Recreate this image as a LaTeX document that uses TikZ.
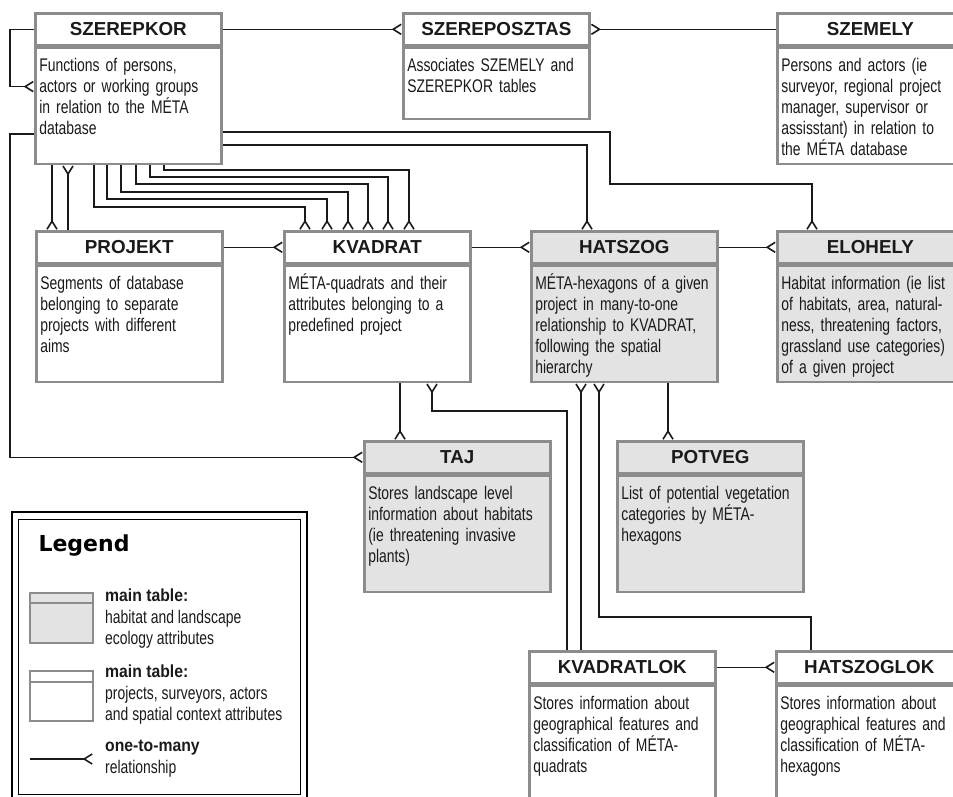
\documentclass[tikz,border=0pt]{standalone}
\usepackage{fontspec}
\setmainfont{Liberation Sans}
\newfontfamily\narrowfont{Liberation Sans}[FakeStretch=0.76]
\newfontfamily\semifont{Liberation Sans}[FakeStretch=0.9]
\newfontfamily\legendfont{DejaVu Sans}
\usepackage{tikz}
\usetikzlibrary{positioning,arrows.meta}
\definecolor{tblgray}{HTML}{8C8C8C}
\definecolor{tblfill}{HTML}{E3E3E3}
\definecolor{inkblack}{HTML}{1A1A1A}

\tikzset{
  hd/.style={draw=tblgray, line width=2.6pt, fill=white, text=inkblack,
    minimum width=186pt, minimum height=32pt, inner sep=0pt, anchor=north west,
    font=\fontsize{18.8}{20}\selectfont\bfseries},
  bd/.style={draw=tblgray, line width=2.6pt, fill=white, text=inkblack,
    inner xsep=4pt, inner ysep=6pt, text width=178pt, align=left,
    text height=18pt, text depth=86pt, font=\narrowfont\fontsize{18.3}{21}\selectfont},
  hab/.style={fill=tblfill},
  rel/.style={draw=inkblack, line width=1.6pt,
    -{Straight Barb[reversed,length=8pt,width=10pt]}},
  lgtext/.style={anchor=north west, inner sep=0pt, align=left, text=inkblack,
    font=\narrowfont\fontsize{18.3}{21.5}\selectfont},
}

\begin{document}
\begin{tikzpicture}[x=1pt,y=-1pt]
\useasboundingbox (0,0) rectangle (953,796);
\clip (0,0) rectangle (953,796);

% tables, top row
\node[hd] (szerepkor) at (34,12) {SZEREPKOR};
\node[bd, below=0pt of szerepkor] (szerepkor-b) {Functions of persons,\\actors or working groups\\in relation to the MÉTA\\database};
\node[hd] (szereposztas) at (402,12) {SZEREPOSZTAS};
\node[bd, text depth=41pt, below=0pt of szereposztas] (szereposztas-b) {Associates SZEMELY and\\SZEREPKOR tables};
\node[hd] (szemely) at (776,12) {SZEMELY};
\node[bd, below=0pt of szemely] (szemely-b) {Persons and actors (ie\\surveyor, regional project\\manager, supervisor or\\assisstant) in relation to\\the MÉTA database};

% tables, second row
\node[hd] (projekt) at (35,230) {PROJEKT};
\node[bd, below=0pt of projekt] (projekt-b) {Segments of database\\belonging to separate\\projects with different\\aims};
\node[hd] (kvadrat) at (283,230) {KVADRAT};
\node[bd, below=0pt of kvadrat] (kvadrat-b) {MÉTA-quadrats and their\\attributes belonging to a\\predefined project};
\node[hd, hab] (hatszog) at (530,230) {HATSZOG};
\node[bd, hab, below=0pt of hatszog] (hatszog-b) {MÉTA-hexagons of a given\\project in many-to-one\\relationship to KVADRAT,\\following the spatial\\hierarchy};
\node[hd, hab] (elohely) at (776,230) {ELOHELY};
\node[bd, hab, below=0pt of elohely] (elohely-b) {Habitat information (ie list\\of habitats, area, natural-\\ness, threatening factors,\\grassland use categories)\\of a given project};

% tables, third row
\node[hd, hab] (taj) at (363,440) {TAJ};
\node[bd, hab, below=0pt of taj] (taj-b) {Stores landscape level\\information about habitats\\(ie threatening invasive\\plants)};
\node[hd, hab] (potveg) at (616,440) {POTVEG};
\node[bd, hab, below=0pt of potveg] (potveg-b) {List of potential vegetation\\categories by MÉTA-\\hexagons};

% tables, bottom row
\node[hd] (kvadratlok) at (528,650) {KVADRATLOK};
\node[bd, below=0pt of kvadratlok] (kvadratlok-b) {Stores information about\\geographical features and\\classification of MÉTA-\\quadrats};
\node[hd] (hatszoglok) at (775,650) {HATSZOGLOK};
\node[bd, below=0pt of hatszoglok] (hatszoglok-b) {Stores information about\\geographical features and\\classification of MÉTA-\\hexagons};

% relations
\draw[rel] (szerepkor.west) -- ++(-24,0) |- ([yshift=-40pt]szerepkor-b.north west);
\draw[rel] (szerepkor.east) -- (szereposztas.west);
\draw[rel] (szemely.west) -- (szereposztas.east);
\draw[rel] (szerepkor-b.south -| 52,0) -- (projekt.north -| 52,0);
\draw[rel] (projekt.north -| 68,0) -- (szerepkor-b.south -| 68,0);
\foreach \a/\b/\c in {94/207/305, 107/199/327, 121/192/348, 136/184/368, 150/177/388, 164/170/409}
  \draw[rel] (szerepkor-b.south -| \a,0) |- (\c,\b) -- (kvadrat.north -| \c,0);
\draw[rel] (szerepkor-b.east |- 0,145) -| (hatszog.north -| 587,0);
\draw[rel] (szerepkor-b.east |- 0,132) -| (610,184) -| (elohely.north -| 812,0);
\draw[rel] (szerepkor-b.west |- 0,134) -- (10,134) |- (taj.west);
\draw[rel] (projekt.east) -- (kvadrat.west);
\draw[rel] (kvadrat.east) -- (hatszog.west);
\draw[rel] (hatszog.east) -- (elohely.west);
\draw[rel] (kvadrat-b.south -| 400,0) -- (taj.north -| 400,0);
\draw[rel] (kvadratlok.north -| 567,0) |- (432,411) -- (kvadrat-b.south -| 432,0);
\draw[rel] (kvadratlok.north -| 581,0) -- (hatszog-b.south -| 581,0);
\draw[rel] (hatszoglok.north -| 811,0) |- (599,617) -- (hatszog-b.south -| 599,0);
\draw[rel] (hatszog-b.south -| 668,0) -- (potveg.north -| 668,0);
\draw[rel] (kvadratlok.east) -- (hatszoglok.west);

% legend
\draw[line width=2.8pt] (12,512) rectangle (307,801);
\draw[line width=1pt] (18,519) rectangle (300,794);
\node[anchor=west, text=black, font=\legendfont\bfseries\fontsize{22}{24}\selectfont] (legend) at (35,546) {Legend};
\draw[draw=tblgray, fill=tblfill, line width=1.5pt] (30,593) rectangle (93,643);
\draw[draw=tblgray, line width=1.5pt] (30,603) -- (93,603);
\node[lgtext] (lg-hab) at (105,589) {{\semifont\fontsize{17.5}{21.5}\selectfont\bfseries main table:}\\habitat and landscape\\ecology attributes};
\draw[draw=tblgray, fill=white, line width=1.5pt] (30,671) rectangle (93,721);
\draw[draw=tblgray, line width=1.5pt] (30,682) -- (93,682);
\node[lgtext] (lg-main) at (105,665) {{\semifont\fontsize{17.5}{21.5}\selectfont\bfseries main table:}\\projects, surveyors, actors\\and spatial context attributes};
\coordinate (lg-a) at (30,759);
\coordinate (lg-b) at (93,759);
\draw[rel] (lg-a) -- (lg-b);
\node[lgtext] (lg-rel) at (105,740) {{\semifont\fontsize{17.5}{21.5}\selectfont\bfseries one-to-many}\\relationship};
\end{tikzpicture}
\end{document}
